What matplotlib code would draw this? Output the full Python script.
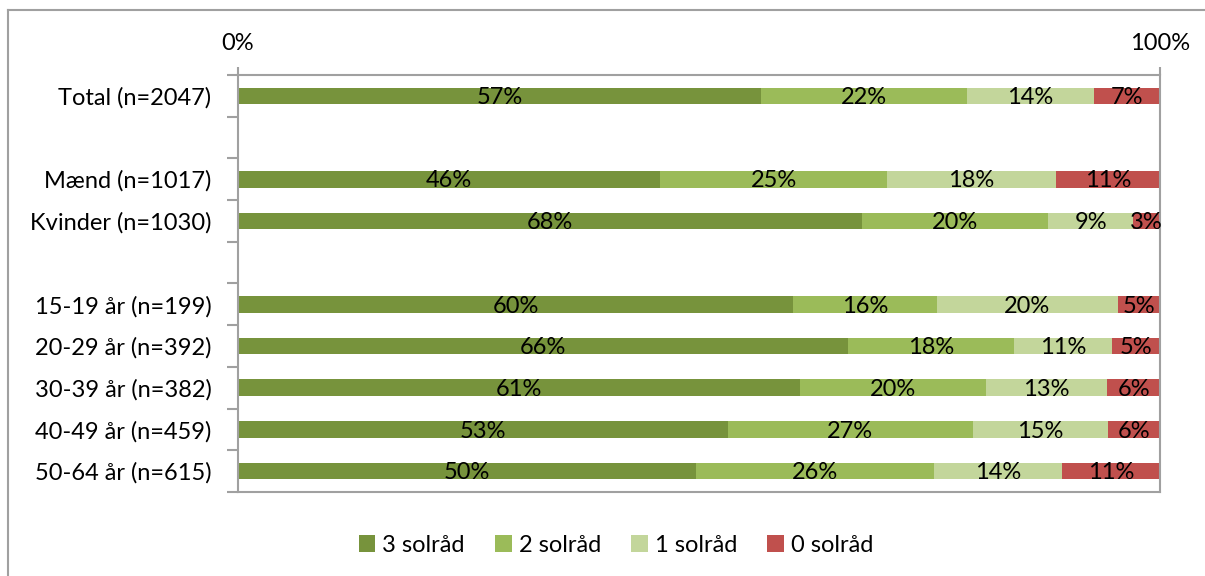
import matplotlib.pyplot as plt
from matplotlib.lines import Line2D
from matplotlib.patches import Patch

plt.rcParams['font.family'] = ['Lato', 'DejaVu Sans']

# rows top to bottom, None = empty gap row
categories = ['Total (n=2047)', None, 'Mænd (n=1017)', 'Kvinder (n=1030)', None,
              '15-19 år (n=199)', '20-29 år (n=392)', '30-39 år (n=382)',
              '40-49 år (n=459)', '50-64 år (n=615)']
sol3 = [56.7, None, 45.8, 67.7, None, 60.2, 66.2, 61.0, 53.1, 49.7]
sol2 = [22.4, None, 24.6, 20.2, None, 15.6, 18.0, 20.1, 26.6, 25.9]
sol1 = [13.7, None, 18.3, 9.2, None, 19.6, 10.6, 13.2, 14.7, 13.9]
sol0 = [7.2, None, 11.3, 2.9, None, 4.6, 5.2, 5.7, 5.6, 10.6]

series = [('3 solråd', sol3, '#77933C'), ('2 solråd', sol2, '#9BBB59'),
          ('1 solråd', sol1, '#C3D69B'), ('0 solråd', sol0, '#C0504D')]

FS = 17

fig = plt.figure(figsize=(12.05, 5.76), dpi=100)
ax = fig.add_axes([238 / 1205, 1 - 492 / 576, 922 / 1205, 417 / 576])

# stack the bars, each row scaled to 100%
for i, cat in enumerate(categories):
    if cat is None:
        continue
    total = sum(s[1][i] for s in series)
    left = 0
    for name, vals, col in series:
        w = vals[i] / total * 100
        ax.barh(i, w, left=left, height=0.4, color=col, edgecolor='none')
        ax.text(left + w / 2, i + 0.04, f'{vals[i]:.0f}%', ha='center', va='center',
                fontsize=FS, color='black')
        left += w

ax.set_xlim(0, 100)
ax.set_ylim(len(categories) - 0.5, -0.5)
ax.set_yticks([i for i, c in enumerate(categories) if c is not None])
ax.set_yticklabels([c for c in categories if c is not None], fontsize=FS)
ax.set_yticks([i - 0.5 for i in range(len(categories) + 1)], minor=True)
ax.tick_params(axis='y', which='major', length=0, pad=19)
ax.tick_params(axis='y', which='minor', length=8, color='#A0A0A0', width=1.5)
ax.xaxis.tick_top()
ax.set_xticks([0, 100])
ax.set_xticklabels(['0%', '100%'], fontsize=FS)
ax.tick_params(axis='x', length=6, color='#A0A0A0', width=1.5, pad=9)
for s in ax.spines.values():
    s.set_color('#A0A0A0')
    s.set_linewidth(1.5)

handles = [Patch(facecolor=c, label=n) for n, v, c in series]
fig.legend(handles=handles, loc='center', bbox_to_anchor=(616 / 1205, 1 - 545 / 576),
           ncol=4, frameon=False, fontsize=FS, handlelength=0.7, handleheight=0.7,
           handletextpad=0.3, columnspacing=1.28)

# outer chart frame
fig.add_artist(Line2D([8 / 1205, 1], [1 - 10 / 576, 1 - 10 / 576], color='#A0A0A0', lw=1.5))
fig.add_artist(Line2D([8 / 1205, 8 / 1205], [0, 1 - 10 / 576], color='#A0A0A0', lw=1.5))

fig.savefig('out.png', dpi=100)
